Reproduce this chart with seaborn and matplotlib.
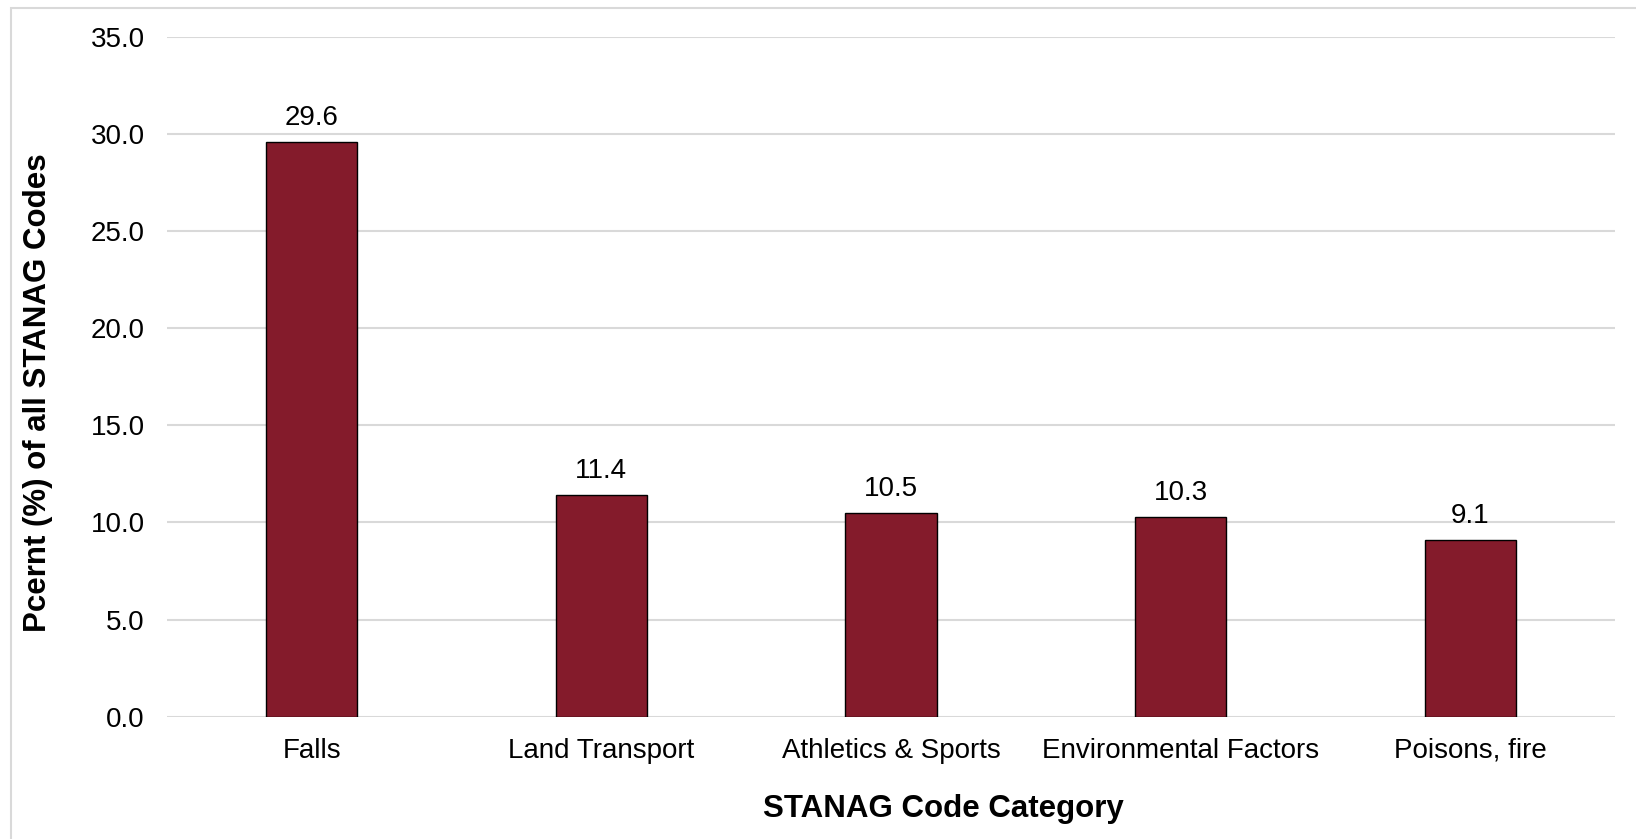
import matplotlib
matplotlib.use("Agg")
import matplotlib.pyplot as plt
from matplotlib.patches import Rectangle
import pandas as pd
import seaborn as sns

categories = ["Falls", "Land Transport", "Athletics & Sports",
              "Environmental Factors", "Poisons, fire"]
percent = [29.6, 11.4, 10.5, 10.3, 9.1]
y_ticks = [0, 5, 10, 15, 20, 25, 30, 35]

sns.set_theme(style="white")
plt.rcParams["font.family"] = ["Liberation Sans", "DejaVu Sans"]

W, H, DPI = 1636, 839, 100
fig = plt.figure(figsize=(W / DPI, H / DPI), dpi=DPI)
ax = fig.add_axes([167 / W, 1 - 716.7 / H, (1615 - 167) / W, (716.7 - 36.7) / H])

df = pd.DataFrame({"category": categories, "percent": percent})
sns.barplot(data=df, x="category", y="percent", ax=ax, color="#841B2B",
            saturation=1, width=0.315, edgecolor="black", linewidth=1.0,
            zorder=3)

ax.set_ylim(0, 35)
ax.set_xlim(-0.5, len(categories) - 0.5)
ax.set_yticks(y_ticks)
ax.set_yticklabels([f"{v:.1f}" for v in y_ticks])
ax.yaxis.grid(True, color="#D9D9D9", linewidth=1.5, zorder=0)
ax.xaxis.grid(False)
for s in ax.spines.values():
    s.set_visible(False)
ax.tick_params(axis="y", length=0, pad=16, labelsize=20, labelcolor="black")
ax.tick_params(axis="x", length=0, pad=15, labelsize=20, labelcolor="black")
ax.set_xlabel("")
ax.set_ylabel("")

# value labels above each bar
for i, v in enumerate(percent):
    ax.annotate(f"{v:.1f}", xy=(i, v), xytext=(0, 12.2),
                textcoords="offset points", ha="center", va="baseline",
                fontsize=20, color="black")

fig.text(943 / W, 1 - 809 / H, "STANAG Code Category", ha="center",
         va="center", fontsize=22.5, fontweight="bold", color="black")
fig.text(38 / W, 1 - 393 / H, "Pcernt (%) of all STANAG Codes", ha="center",
         va="center", rotation=90, fontsize=22.5, fontweight="bold",
         color="black")

# light frame around the chart area
fig.patches.append(Rectangle((11 / W, -0.05), 1.2, 1 - 8 / H + 0.05,
                             transform=fig.transFigure, fill=False,
                             edgecolor="#D9D9D9", linewidth=1.5))

fig.savefig("out.png", dpi=DPI)
